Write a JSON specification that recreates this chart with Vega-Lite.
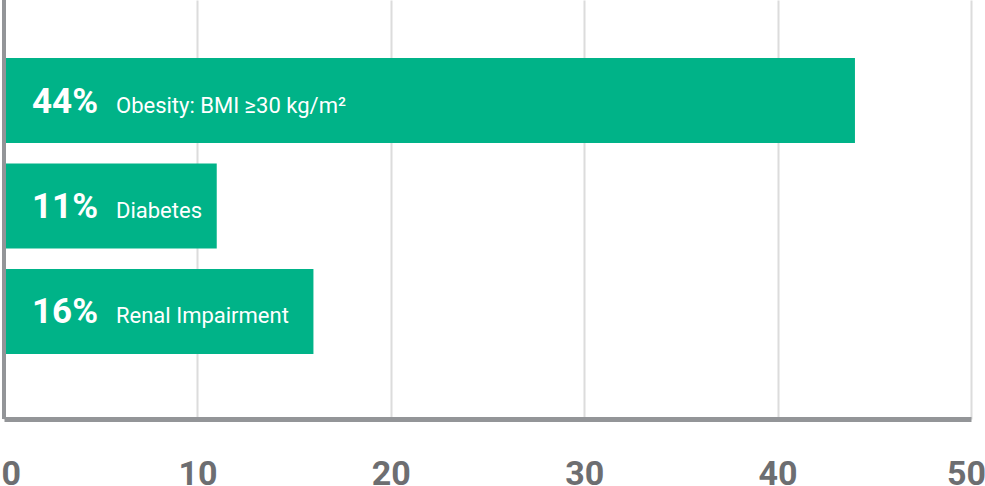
{
  "$schema": "https://vega.github.io/schema/vega-lite/v6.json",
  "width": 967,
  "height": 419,
  "autosize": {"type": "none"},
  "padding": {"left": 4, "top": 0, "right": 14, "bottom": 67},
  "data": {
    "values": [
      {"condition": "Obesity: BMI ≥30 kg/m²", "pct": 44},
      {"condition": "Diabetes", "pct": 11},
      {"condition": "Renal Impairment", "pct": 16}
    ]
  },
  "layer": [
    {
      "mark": {"type": "bar", "color": "#00b388"},
      "encoding": {
        "y": {
          "field": "condition",
          "type": "nominal",
          "sort": null,
          "axis": null,
          "scale": {"paddingInner": 0.194, "paddingOuter": 0.583, "align": 0.4715}
        },
        "x": {
          "field": "pct",
          "type": "quantitative",
          "scale": {"domain": [0, 50], "nice": false},
          "axis": {
            "title": null,
            "values": [0, 10, 20, 30, 40, 50],
            "grid": true,
            "gridColor": "#dcdcdc",
            "gridWidth": 2,
            "domainColor": "#939598",
            "domainWidth": 5,
            "ticks": false,
            "tickSize": 0,
            "labelFont": "Roboto",
            "labelFontWeight": "bold",
            "labelFontSize": 34,
            "labelColor": "#6d6e71",
            "labelBaseline": "top",
            "labelPadding": 38,
            "labelAlign": {"expr": "datum.value === 0 ? 'left' : 'center'"},
            "labelOffset": {"expr": "datum.value === 0 ? -3 : datum.value === 50 ? -5 : 0"},
            "labelFlush": false,
            "labelOverlap": false,
            "labelBound": false
          }
        }
      }
    },
    {
      "mark": {
        "type": "text",
        "text": {"expr": "datum.pct + '%'"},
        "align": "left",
        "baseline": "alphabetic",
        "dx": 28,
        "dy": 12,
        "font": "Roboto",
        "fontWeight": "bold",
        "fontSize": 35,
        "color": "white"
      },
      "encoding": {
        "y": {"field": "condition", "type": "nominal", "sort": null},
        "x": {"datum": 0}
      }
    },
    {
      "mark": {
        "type": "text",
        "align": "left",
        "baseline": "alphabetic",
        "dx": 112,
        "dy": 12,
        "font": "Roboto",
        "fontSize": 22,
        "color": "white"
      },
      "encoding": {
        "y": {"field": "condition", "type": "nominal", "sort": null},
        "x": {"datum": 0},
        "text": {"field": "condition"}
      }
    },
    {
      "mark": {"type": "rule", "color": "#939598", "strokeWidth": 4},
      "encoding": {"x": {"datum": 0}}
    }
  ],
  "config": {"view": {"stroke": null}}
}
